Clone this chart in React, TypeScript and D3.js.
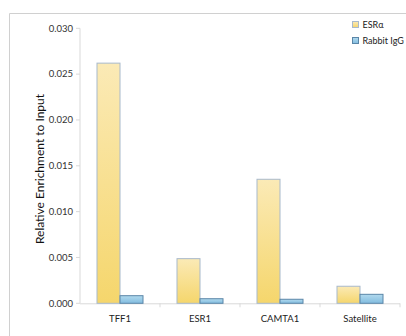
import React from "react";
import * as d3 from "d3";

const categories = ["TFF1", "ESR1", "CAMTA1", "Satellite"];
const seriesNames = ["ESRα", "Rabbit IgG"];
const esrValues = [0.0262, 0.00487, 0.01353, 0.00186];
const iggValues = [0.00083, 0.0005, 0.00044, 0.00098];
const yTicks = [0, 0.005, 0.01, 0.015, 0.02, 0.025, 0.03];

export default function App() {
  const W = 406, H = 336;
  const left = 80, right = 400, top = 28.3, bottom = 303.3;
  const x = d3.scaleBand<string>().domain(categories).range([left, right]).paddingInner(0.425).paddingOuter(0.2125);
  const y = d3.scaleLinear().domain([0, 0.03]).range([bottom, top]);
  const inner = d3.scaleBand<number>().domain([0, 1]).range([0, x.bandwidth()]);
  const series = [esrValues, iggValues];
  const fills = ["url(#gy)", "url(#gb)"];
  const strokes = ["#a8b9cc", "#5a86a8"];
  const font = "Lato, 'Open Sans', sans-serif";
  return (
    <svg width={W} height={H} style={{ position: "absolute", left: 0, top: 0 }}>
      <defs>
        <linearGradient id="gy" x1="0" y1="0" x2="0" y2="1">
          <stop offset="0" stopColor="#fbeab6" />
          <stop offset="1" stopColor="#f5d66c" />
        </linearGradient>
        <linearGradient id="gb" x1="0" y1="0" x2="0" y2="1">
          <stop offset="0" stopColor="#b2daee" />
          <stop offset="1" stopColor="#82bcdf" />
        </linearGradient>
      </defs>
      <rect x={0} y={0} width={W} height={H} fill="#fff" />
      <path d={`M9.5,${H}V13.5H${W}`} fill="none" stroke="#d0d0d0" />
      <line x1={left} x2={left} y1={top} y2={bottom} stroke="#d9d9d9" />
      <line x1={left} x2={right} y1={bottom + 0.5} y2={bottom + 0.5} stroke="#d9d9d9" />
      {yTicks.map((t) => (
        <g key={t}>
          <line x1={left - 4} x2={left} y1={y(t)} y2={y(t)} stroke="#d9d9d9" />
          <text x={left - 7} y={y(t)} dy="0.35em" textAnchor="end" fontSize={9.5} fontFamily={font} fill="#333">
            {d3.format(".3f")(t)}
          </text>
        </g>
      ))}
      {categories.map((c, i) => (
        <g key={c}>
          <line x1={left + (i + 1) * x.step()} x2={left + (i + 1) * x.step()} y1={bottom} y2={bottom + 4} stroke="#d9d9d9" />
          <text x={(x(c) as number) + x.bandwidth() / 2} y={bottom + 19} textAnchor="middle" fontSize={9.5} fontFamily={font} fill="#222">
            {c}
          </text>
        </g>
      ))}
      {series.map((vals, s) =>
        vals.map((v, i) => (
          <rect
            key={`${s}-${i}`}
            x={(x(categories[i]) as number) + (inner(s) as number)}
            y={y(v)}
            width={inner.bandwidth()}
            height={bottom - y(v)}
            fill={fills[s]}
            stroke={strokes[s]}
            strokeWidth={1}
          />
        ))
      )}
      <text transform={`translate(44,169) rotate(-90)`} textAnchor="middle" fontSize={12} fontFamily={font} fill="#111">
        Relative Enrichment to Input
      </text>
      {seriesNames.map((n, s) => (
        <g key={n} transform={`translate(352.5,${21.5 + s * 16})`}>
          <rect x={0} y={0} width={6} height={6} fill={fills[s]} stroke={strokes[s]} />
          <text x={10} y={3} dy="0.35em" fontSize={9} fontFamily={font} fill="#222">{n}</text>
        </g>
      ))}
    </svg>
  );
}
